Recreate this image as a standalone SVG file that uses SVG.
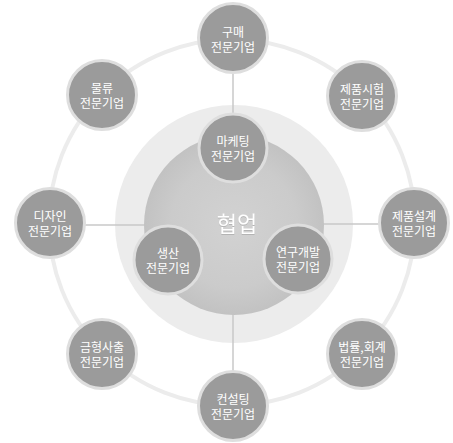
<svg xmlns="http://www.w3.org/2000/svg" width="453" height="443" viewBox="0 0 453 443">
  <defs>
    <radialGradient id="core" cx="50%" cy="50%" r="50%">
      <stop offset="0" stop-color="#d2d2d2"/>
      <stop offset="0.7" stop-color="#cbcbcb"/>
      <stop offset="1" stop-color="#c2c2c2"/>
    </radialGradient>
    <filter id="sh" x="-20%" y="-20%" width="140%" height="140%">
      <feDropShadow dx="0" dy="0.5" stdDeviation="0.6" flood-color="#555" flood-opacity="0.45"/>
    </filter>
  </defs>
  <style>
    .node circle { fill: #9b9b9b; stroke: #dedede; stroke-width: 3; }
    .node text { fill: #ffffff; font-family: "Noto Sans CJK KR", "Noto Sans", sans-serif; font-size: 12px; text-anchor: middle; }
    .conn line { stroke: #c9c9c9; stroke-width: 1.5; }
    .orbit { fill: none; stroke: #ececec; stroke-width: 4; }
    .hub-text { fill: #ffffff; font-family: "Noto Sans CJK KR", "Noto Sans", sans-serif; font-size: 22px; text-anchor: middle; }
  </style>
  <rect width="453" height="443" fill="#ffffff"/>
  <circle class="orbit" cx="232" cy="222.5" r="183"/>
  <g id="hub-ring">
    <circle cx="234" cy="224" r="119" fill="#ececec"/>
  </g>
  <g id="connectors" class="conn">
    <line x1="233" y1="74" x2="233" y2="140"/>
    <line x1="233" y1="310" x2="233" y2="372"/>
    <line x1="85" y1="225" x2="150" y2="225"/>
    <line x1="320" y1="224" x2="379" y2="224"/>
  </g>
  <g id="hub">
    <circle cx="234" cy="225" r="90" fill="url(#core)"/>
    <text class="hub-text" x="237" y="232" filter="url(#sh)">협업</text>
  </g>
  <g id="n-purchase" class="node"><circle cx="233" cy="38" r="34.5"/><text x="233" y="36.5">구매</text><text x="233" y="52">전문기업</text></g>
  <g id="n-test" class="node"><circle cx="362" cy="96" r="34.5"/><text x="362" y="93.5">제품시험</text><text x="362" y="109">전문기업</text></g>
  <g id="n-design-prod" class="node"><circle cx="414" cy="223" r="34.5"/><text x="414" y="220.5">제품설계</text><text x="414" y="236">전문기업</text></g>
  <g id="n-legal" class="node"><circle cx="362" cy="354" r="34.5"/><text x="362" y="351.5">법률,회계</text><text x="362" y="367">전문기업</text></g>
  <g id="n-consult" class="node"><circle cx="233" cy="406" r="34.5"/><text x="233" y="403.5">컨설팅</text><text x="233" y="419">전문기업</text></g>
  <g id="n-mold" class="node"><circle cx="102" cy="354" r="34.5"/><text x="102" y="351.5">금형사출</text><text x="102" y="367">전문기업</text></g>
  <g id="n-design" class="node"><circle cx="50" cy="223" r="34.5"/><text x="50" y="220.5">디자인</text><text x="50" y="236">전문기업</text></g>
  <g id="n-logistics" class="node"><circle cx="102" cy="95" r="34.5"/><text x="102" y="92.5">물류</text><text x="102" y="108">전문기업</text></g>
  <g id="n-marketing" class="node"><circle cx="233" cy="148" r="34"/><text x="233" y="145.5">마케팅</text><text x="233" y="161">전문기업</text></g>
  <g id="n-production" class="node"><circle cx="168" cy="260" r="34"/><text x="168" y="257.5">생산</text><text x="168" y="273">전문기업</text></g>
  <g id="n-rnd" class="node"><circle cx="298" cy="259" r="34"/><text x="298" y="256.5">연구개발</text><text x="298" y="272">전문기업</text></g>
</svg>
